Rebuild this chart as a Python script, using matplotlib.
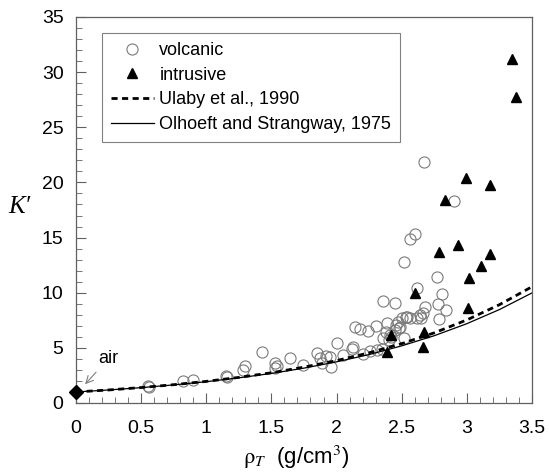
"""
Dielectric constant K' vs bulk density for volcanic and intrusive rocks
"""

import matplotlib
matplotlib.use("Agg")
import matplotlib.pyplot as plt
from matplotlib.ticker import MultipleLocator

plt.rcParams["font.family"] = ["Liberation Sans", "DejaVu Sans"]
plt.rcParams["mathtext.fontset"] = "stix"

# ── Data ─────────────────────────────────────────────────────────────────────
volc_rho = [0.55, 0.56, 0.82, 0.90, 1.15, 1.16, 1.28, 1.30, 1.43, 1.53, 1.53,
            1.54, 1.64, 1.74, 1.85, 1.87, 1.89, 1.92, 1.95, 1.96, 2.00, 2.05,
            2.12, 2.13, 2.14, 2.18, 2.20, 2.24, 2.26, 2.30, 2.31, 2.35, 2.36,
            2.36, 2.38, 2.39, 2.40, 2.41, 2.42, 2.45, 2.45, 2.46, 2.47, 2.48,
            2.49, 2.50, 2.52, 2.52, 2.53, 2.54, 2.56, 2.56, 2.60, 2.62, 2.62,
            2.64, 2.65, 2.66, 2.67, 2.68, 2.77, 2.78, 2.79, 2.81, 2.84, 2.90]
volc_k   = [1.55, 1.45, 2.02, 2.08, 2.45, 2.40, 2.99, 3.35, 4.65, 3.14, 3.60,
            3.35, 4.10, 3.44, 4.56, 4.10, 3.60, 4.26, 4.20, 3.30, 5.47, 4.35,
            4.87, 5.10, 6.92, 6.68, 4.44, 6.53, 4.70, 6.98, 4.80, 4.87, 9.28,
            5.87, 6.40, 7.22, 5.70, 6.20, 6.00, 6.62, 9.10, 7.07, 7.37, 6.77,
            6.90, 7.68, 12.78, 5.87, 7.83, 7.83, 14.84, 7.70, 15.32, 10.40, 7.68,
            7.98, 7.68, 8.19, 21.85, 8.73, 11.40, 8.98, 7.60, 9.88, 8.43, 18.34]

intr_rho = [2.39, 2.42, 2.60, 2.66, 2.67, 2.79, 2.83, 2.93, 2.99, 3.01,
            3.02, 3.11, 3.18, 3.18, 3.35, 3.38]
intr_k   = [4.59, 6.16, 9.94, 5.10, 6.47, 13.72, 18.40, 14.32, 20.37, 8.58,
            11.30, 12.42, 13.48, 19.76, 31.19, 27.77]

curve_rho = [0.0, 0.25, 0.5, 0.75, 1.0, 1.25, 1.5, 1.75, 2.0, 2.25, 2.5,
             2.75, 3.0, 3.25, 3.5]
ulaby_k   = [1.00, 1.18, 1.40, 1.66, 1.96, 2.32, 2.74, 3.25, 3.84, 4.55,
             5.38, 6.36, 7.53, 8.91, 10.54]
olhoeft_k = [1.00, 1.18, 1.39, 1.64, 1.93, 2.28, 2.68, 3.16, 3.73, 4.39,
             5.18, 6.10, 7.19, 8.47, 9.98]

air_rho = [0.0]
air_k   = [1.0]

# ── Plot ─────────────────────────────────────────────────────────────────────
fig = plt.figure(figsize=(5.49, 4.76), dpi=100)
ax = fig.add_axes([0.1384, 0.1534, 0.8306, 0.8109])

ax.plot(volc_rho, volc_k, "o", ms=8, mfc="none", mec="#7a7a7a", mew=0.8,
        label="volcanic")
ax.plot(intr_rho, intr_k, "^", ms=7.5, color="black", label="intrusive")
ax.plot(curve_rho, ulaby_k, color="black", lw=2, dashes=(2.2, 1.6),
        label="Ulaby et al., 1990")
ax.plot(curve_rho, olhoeft_k, color="black", lw=0.9,
        label="Olhoeft and Strangway, 1975")
ax.plot(air_rho, air_k, "D", ms=7, color="black", clip_on=False, zorder=5)

ax.annotate("air", xy=(0.07, 1.7), xytext=(0.17, 4.0), fontsize=13,
            va="center", ha="left",
            arrowprops=dict(arrowstyle="->", color="#808080", lw=0.8,
                            shrinkA=2, shrinkB=0))

ax.set_xlim(0, 3.5)
ax.set_ylim(0, 35)
ax.xaxis.set_major_locator(MultipleLocator(0.5))
ax.xaxis.set_minor_locator(MultipleLocator(0.1))
ax.yaxis.set_major_locator(MultipleLocator(5))
ax.yaxis.set_minor_locator(MultipleLocator(1))
ax.set_xticks([0, 0.5, 1, 1.5, 2, 2.5, 3, 3.5])
ax.set_xticklabels(["0", "0.5", "1", "1.5", "2", "2.5", "3", "3.5"])
ax.tick_params(which="both", direction="in", top=False, right=False,
               labelsize=14, color="#606060")
ax.tick_params(which="major", length=7)
ax.tick_params(axis="x", which="major", pad=12)
ax.tick_params(axis="y", which="major", pad=9)
ax.tick_params(which="minor", length=4)
for s in ax.spines.values():
    s.set_color("#606060")
    s.set_linewidth(0.9)

ax.set_xlabel(r"$\mathrm{\rho}_{T}$  (g/cm$^3$)", fontsize=16)
ax.xaxis.set_label_coords(0.482, -0.105)
ax.set_ylabel("K′", fontsize=18, rotation=0, va="center", ha="center",
              family="Liberation Serif", style="italic")
ax.yaxis.set_label_coords(-0.124, 0.508)

leg = ax.legend(loc="upper left", bbox_to_anchor=(0.056, 0.958), fontsize=13,
                frameon=True, fancybox=False, edgecolor="#606060",
                borderaxespad=0, handlelength=2.4, handletextpad=0.3,
                borderpad=0.5, labelspacing=0.42)
leg.get_frame().set_linewidth(0.8)

fig.savefig("out.png", dpi=100)
